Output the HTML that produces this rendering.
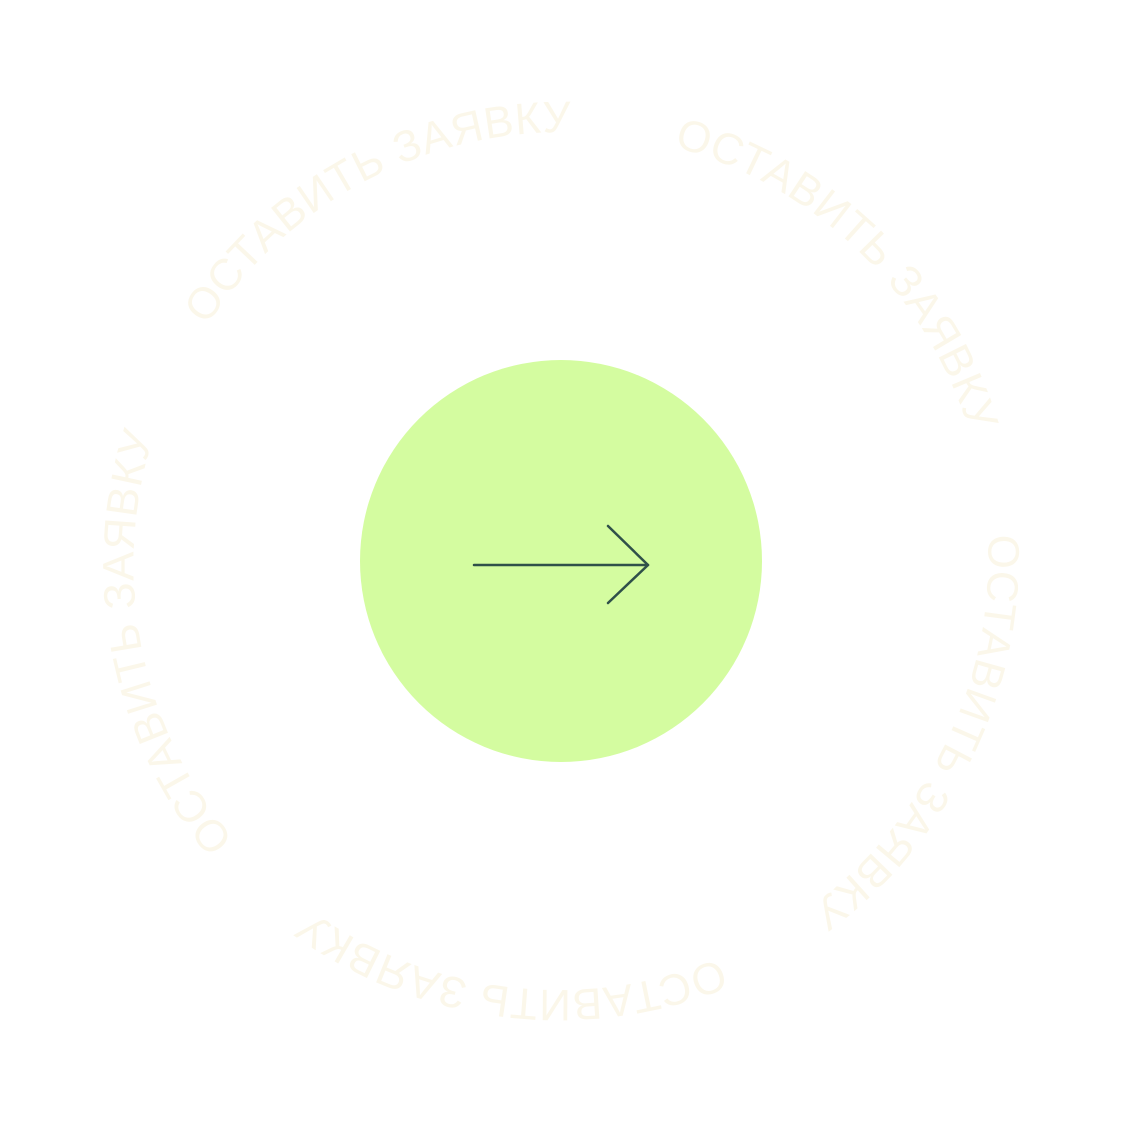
<!DOCTYPE html>
<html><head><meta charset="utf-8"><style>html,body{margin:0;padding:0;background:#fff}svg{display:block}</style></head>
<body>
<svg width="1122" height="1122" viewBox="0 0 1122 1122" xmlns="http://www.w3.org/2000/svg">
<defs>
<path id="ring" d="M200.6,335.8 A425,425 0 1,1 921.4,786.2 A425,425 0 1,1 200.6,335.8"/>
</defs>
<g font-family="'Liberation Sans', 'DejaVu Sans', sans-serif" font-size="44" fill="#fbf7ea">
<text><textPath href="#ring" startOffset="12" textLength="430" lengthAdjust="spacing">ОСТАВИТЬ ЗАЯВКУ</textPath></text>
<text><textPath href="#ring" startOffset="546" textLength="430" lengthAdjust="spacing">ОСТАВИТЬ ЗАЯВКУ</textPath></text>
<text><textPath href="#ring" startOffset="1080" textLength="430" lengthAdjust="spacing">ОСТАВИТЬ ЗАЯВКУ</textPath></text>
<text><textPath href="#ring" startOffset="1614" textLength="430" lengthAdjust="spacing">ОСТАВИТЬ ЗАЯВКУ</textPath></text>
<text><textPath href="#ring" startOffset="2148" textLength="430" lengthAdjust="spacing">ОСТАВИТЬ ЗАЯВКУ</textPath></text>
</g>
<circle cx="561" cy="561" r="201" fill="#d4fca0"/>
<g stroke="#2f5049" stroke-width="2.5" fill="none" stroke-linecap="round" stroke-linejoin="round">
<line x1="474" y1="565" x2="648" y2="565"/>
<polyline points="608,526 648,565 608,603"/>
</g>
</svg>
</body></html>
